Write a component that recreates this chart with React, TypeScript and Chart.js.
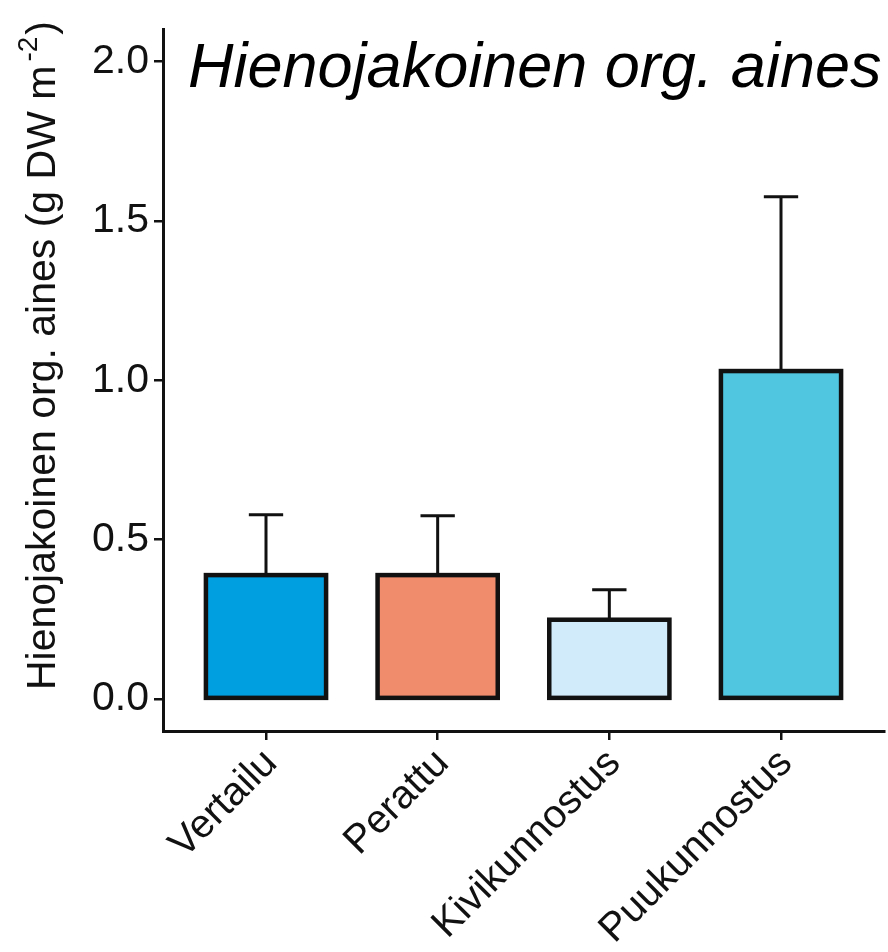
import { useEffect, useRef } from 'react';
import { Chart, registerables } from 'chart.js';

Chart.register(...registerables);

const categories = ['Vertailu', 'Perattu', 'Kivikunnostus', 'Puukunnostus'];
const positions = [1, 2, 3, 4];
const means = [0.389, 0.389, 0.249, 1.029];
const errors = [0.189, 0.186, 0.094, 0.547];
const barColors = ['#009FE0', '#F08C6C', '#D2EBFA', '#50C6E0'];
const yTicks = [0, 0.5, 1, 1.5, 2];
const chartTitle = 'Hienojakoinen org. aines';
const yTitleMain = 'Hienojakoinen org. aines (g DW m';
const yTitleSup = '-2';
const yTitleEnd = ')';

const FAMILY = '"Liberation Sans", Arial, Helvetica, sans-serif';
const INK = '#111111';

export default function App() {
  const ref = useRef<HTMLCanvasElement>(null);

  useEffect(() => {
    const canvas = ref.current;
    if (!canvas) return;

    const overlayPlugin = {
      id: 'overlay',
      afterDatasetsDraw(chart: any) {
        const ctx = chart.ctx;
        const meta = chart.getDatasetMeta(0);
        const xs = chart.scales.x;
        const ys = chart.scales.y;
        const capHalf = (xs.getPixelForValue(1.1) - xs.getPixelForValue(0.9)) / 2;
        ctx.save();
        ctx.strokeStyle = INK;
        ctx.lineCap = 'butt';
        ctx.lineWidth = 3;
        meta.data.forEach((bar: any, i: number) => {
          const top = ys.getPixelForValue(means[i] + errors[i]);
          ctx.beginPath();
          ctx.moveTo(bar.x, bar.y);
          ctx.lineTo(bar.x, top);
          ctx.moveTo(bar.x - capHalf, top);
          ctx.lineTo(bar.x + capHalf, top);
          ctx.stroke();
        });
        ctx.lineWidth = 4.5;
        ctx.lineJoin = 'miter';
        meta.data.forEach((bar: any) => {
          const { x, y, base, width } = bar.getProps(['x', 'y', 'base', 'width'], true);
          ctx.strokeRect(x - width / 2, y, width, base - y);
        });

        // plot title inside the panel
        ctx.fillStyle = '#000';
        ctx.font = 'italic 63px ' + FAMILY;
        ctx.textBaseline = 'alphabetic';
        ctx.textAlign = 'left';
        ctx.fillText(chartTitle, 188, 87);

        // y-axis title with superscript
        ctx.fillStyle = INK;
        ctx.translate(55, 690);
        ctx.rotate(-Math.PI / 2);
        ctx.font = '41px ' + FAMILY;
        ctx.fillText(yTitleMain, 0, 0);
        let w = ctx.measureText(yTitleMain).width + 4;
        ctx.font = '28px ' + FAMILY;
        ctx.fillText(yTitleSup, w, -18);
        w += ctx.measureText(yTitleSup).width + 2;
        ctx.font = '41px ' + FAMILY;
        ctx.fillText(yTitleEnd, w, 0);
        ctx.restore();
      },
    };

    const axisCommon = {
      grid: {
        drawOnChartArea: false,
        drawTicks: true,
        tickLength: 9,
        color: INK,
        lineWidth: 2.5,
        offset: false,
      },
      border: { display: true, color: INK, width: 3 },
    };

    const chart = new Chart(canvas, {
      type: 'bar',
      data: {
        datasets: [
          {
            data: positions.map((p, i) => ({ x: p, y: means[i] })),
            backgroundColor: barColors,
            borderWidth: 0,
            barPercentage: 0.7,
            categoryPercentage: 1,
          },
        ],
      },
      options: {
        responsive: false,
        animation: false,
        devicePixelRatio: 1,
        layout: { padding: { top: 15, right: 4, left: 0, bottom: 0 } },
        plugins: {
          legend: { display: false },
          tooltip: { enabled: false },
          title: { display: false },
        },
        scales: {
          x: {
            type: 'linear',
            min: 0.4,
            max: 4.6,
            offset: false,
            afterBuildTicks: (s: any) => {
              s.ticks = positions.map((v) => ({ value: v }));
            },
            afterFit: (s: any) => {
              s.height = 221;
            },
            ...axisCommon,
            ticks: {
              autoSkip: false,
              maxRotation: 45,
              minRotation: 45,
              color: INK,
              padding: 0,
              labelOffset: 5,
              font: { family: FAMILY, size: 40 },
              callback: (_v: any, i: number) => categories[i],
            },
          },
          y: {
            type: 'linear',
            min: -0.1,
            max: 2.1,
            afterBuildTicks: (s: any) => {
              s.ticks = yTicks.map((v) => ({ value: v }));
            },
            afterFit: (s: any) => {
              s.width = 163;
            },
            ...axisCommon,
            ticks: {
              color: INK,
              padding: 5,
              font: { family: FAMILY, size: 41 },
              callback: (v: any) => Number(v).toFixed(1),
            },
            title: { display: false },
          },
        },
      },
      plugins: [overlayPlugin],
    } as any);

    return () => chart.destroy();
  }, []);

  return (
    <div style={{ position: 'absolute', left: 0, top: 0, width: 888, height: 952, background: '#fff' }}>
      <canvas ref={ref} width={888} height={952} />
    </div>
  );
}
